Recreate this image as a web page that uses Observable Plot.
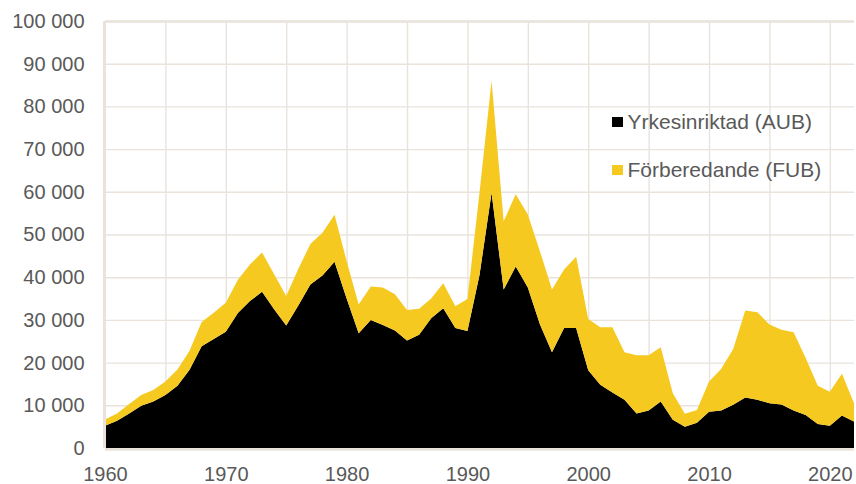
<!DOCTYPE html>
<html>
<head>
<meta charset="utf-8">
<script src="https://cdn.jsdelivr.net/npm/d3@7"></script>
<script src="https://cdn.jsdelivr.net/npm/@observablehq/plot@0.6"></script>
<style>
  html, body { margin: 0; padding: 0; background: #fff; }
  #wrap { position: relative; width: 856px; height: 484px; }
  #legend { position: absolute; left: 612px; top: 108px; font-family: "Liberation Sans", Arial, sans-serif; font-size: 21px; color: #595959; }
  .row { display: flex; align-items: center; height: 28px; margin-bottom: 20px; white-space: nowrap; }
  .sw { width: 10.5px; height: 10.5px; margin-right: 5px; flex: none; }
</style>
</head>
<body>
<div id="wrap"><div id="legend"></div></div>
<script>
const years = [1960,1961,1962,1963,1964,1965,1966,1967,1968,1969,
  1970,1971,1972,1973,1974,1975,1976,1977,1978,1979,
  1980,1981,1982,1983,1984,1985,1986,1987,1988,1989,
  1990,1991,1992,1993,1994,1995,1996,1997,1998,1999,
  2000,2001,2002,2003,2004,2005,2006,2007,2008,2009,
  2010,2011,2012,2013,2014,2015,2016,2017,2018,2019,
  2020,2021,2022];
// Yrkesinriktad (AUB)
const aub = [5200,6400,8100,9900,10900,12400,14600,18300,23800,25500,
  27200,31600,34400,36600,32500,28700,33400,38300,40400,43600,
  35000,26900,30000,28800,27500,25200,26500,30400,32700,28100,
  27400,40500,59800,37100,42500,37600,29000,22400,28100,28100,
  18200,14800,13000,11300,8100,8800,10900,6600,5000,5900,
  8500,8800,10100,11800,11300,10500,10200,8800,7700,5600,
  5200,7600,6200];
// Förberedande (FUB)
const fub = [1500,1700,2200,2500,2700,3200,3800,4500,5700,6200,
  6800,7800,8600,9200,8200,6900,8500,9500,10000,11000,
  8800,6700,7800,8800,8500,7100,6100,4600,5900,5100,
  7500,19300,26200,16000,16900,17100,17100,14700,13700,16700,
  12000,13500,15300,11100,13600,12900,12700,6200,3000,3000,
  7100,9700,13100,20400,20500,18400,17500,18300,13400,9000,
  8000,9800,4300];
const seriesNames = ["Yrkesinriktad (AUB)", "Förberedande (FUB)"];
const seriesColors = ["#000000", "#F5C91F"];
const yTicks = [0,10000,20000,30000,40000,50000,60000,70000,80000,90000,100000];
const xTicks = [1960,1970,1980,1990,2000,2010,2020];
const xGrid = [1965,1970,1975,1980,1985,1990,1995,2000,2005,2010,2015,2020];

const table = [];
years.forEach((yr, i) => table.push({year: yr, series: seriesNames[0], value: aub[i]}));
years.forEach((yr, i) => table.push({year: yr, series: seriesNames[1], value: fub[i]}));

const fmt = d3.formatLocale({decimal: ",", thousands: " ", grouping: [3], currency: ["", ""]}).format(",");
const gridColor = "#e9e3dc";

const chart = Plot.plot({
  width: 856, height: 484,
  marginLeft: 105, marginRight: 2, marginTop: 21, marginBottom: 36,
  style: {fontFamily: "'Liberation Sans', Arial, sans-serif", fontSize: "20px", color: "#595959", background: "#fff"},
  x: {domain: [1960, 2022], label: null},
  y: {domain: [0, 100000], label: null},
  color: {domain: seriesNames, range: seriesColors},
  marks: [
    Plot.gridY(yTicks, {stroke: gridColor, strokeOpacity: 1, strokeWidth: 1.4}),
    Plot.gridX(xGrid, {stroke: gridColor, strokeOpacity: 1, strokeWidth: 1.4}),
    Plot.areaY(table, {x: "year", y: "value", fill: "series", z: "series"}),
    Plot.ruleY([0], {stroke: gridColor, strokeWidth: 2.6, dy: 1}),
    Plot.ruleY([100000], {stroke: gridColor, strokeWidth: 2.6}),
    Plot.ruleX([1960], {stroke: gridColor, strokeWidth: 3, dx: -1}),
    Plot.axisY(yTicks, {tickSize: 0, tickPadding: 21, tickFormat: fmt, fontSize: 20, label: null}),
    Plot.axisX(xTicks, {tickSize: 0, tickPadding: 18, tickFormat: d => String(d), fontSize: 20, label: null})
  ]
});
document.getElementById("wrap").prepend(chart);

const legend = document.getElementById("legend");
seriesNames.forEach((name, i) => {
  const row = document.createElement("div");
  row.className = "row";
  const sw = document.createElement("span");
  sw.className = "sw";
  sw.style.background = seriesColors[i];
  const label = document.createElement("span");
  label.textContent = name;
  row.append(sw, label);
  legend.append(row);
});
</script>
</body>
</html>
